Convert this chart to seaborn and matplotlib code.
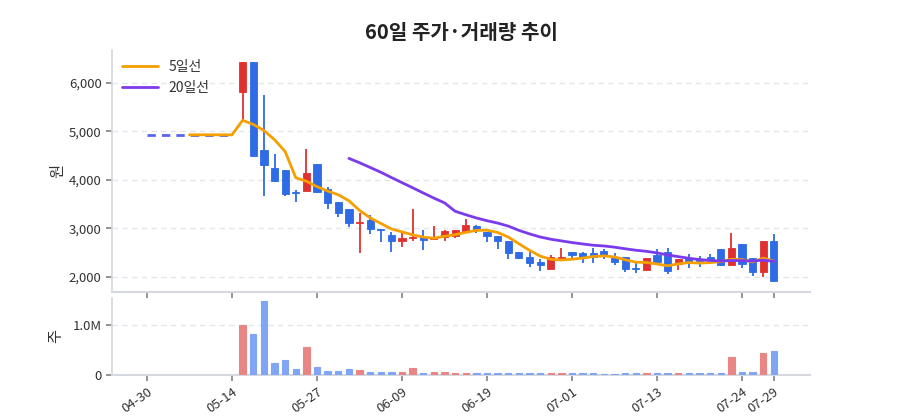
import numpy as np
import pandas as pd
import matplotlib
matplotlib.use("Agg")
import matplotlib.pyplot as plt
from matplotlib.ticker import FuncFormatter, FixedLocator
import seaborn as sns

# ---------------- data ----------------
n_days = 60
pre_close = [4930] * 9          # days 0..8 (before first candle)
first_idx = 9

opens  = [5810, 6430, 4610, 4240, 4200, 3760, 3770, 4320, 3810, 3545, 3410, 3110, 3165, 2990, 2865,
          2730, 2800, 2820, 2780, 2830, 2845, 2935, 3050, 2935, 2845, 2730, 2510, 2400, 2315, 2160,
          2375, 2520, 2500, 2490, 2535, 2385, 2405, 2180, 2145, 2455, 2520, 2260, 2385, 2365, 2400,
          2575, 2235, 2675, 2385, 2095, 2740]
closes = [6430, 4500, 4310, 3980, 3705, 3730, 4140, 3750, 3530, 3320, 3115, 3140, 2985, 2960, 2745,
          2810, 2830, 2765, 2830, 2955, 2970, 3070, 2970, 2845, 2730, 2490, 2380, 2295, 2250, 2400,
          2420, 2460, 2405, 2420, 2455, 2315, 2170, 2160, 2385, 2300, 2130, 2365, 2295, 2330, 2350,
          2235, 2605, 2260, 2095, 2740, 1920]
highs  = [6430, 6430, 5750, 4540, 4200, 3800, 4640, 4320, 3850, 3545, 3410, 3310, 3280, 2990, 2935,
          2955, 3395, 2970, 3050, 2960, 2975, 3190, 3070, 2935, 2845, 2730, 2520, 2520, 2365, 2455,
          2590, 2520, 2505, 2605, 2570, 2490, 2405, 2280, 2390, 2575, 2605, 2370, 2470, 2440, 2465,
          2580, 2900, 2675, 2390, 2745, 2880]
lows   = [5240, 4500, 3660, 3965, 3660, 3550, 3770, 3740, 3400, 3245, 3020, 2490, 2890, 2710, 2520,
          2625, 2750, 2545, 2765, 2750, 2800, 2935, 2915, 2710, 2585, 2365, 2365, 2200, 2125, 2160,
          2375, 2385, 2295, 2280, 2365, 2250, 2110, 2090, 2140, 2300, 2060, 2145, 2190, 2205, 2345,
          2230, 2230, 2180, 2025, 2005, 1915]
volumes = [1.0, 0.83, 1.48, 0.234, 0.30, 0.124, 0.56, 0.145, 0.069, 0.069, 0.11, 0.10, 0.048, 0.055,
           0.048, 0.055, 0.13, 0.028, 0.048, 0.048, 0.028, 0.028, 0.028, 0.028, 0.035, 0.04, 0.028,
           0.035, 0.035, 0.035, 0.035, 0.028, 0.028, 0.028, 0.02, 0.014, 0.028, 0.028, 0.04, 0.028,
           0.028, 0.028, 0.025, 0.025, 0.025, 0.028, 0.35, 0.062, 0.062, 0.44, 0.48]  # millions

tick_idx = [0, 8, 16, 24, 32, 40, 48, 56, 59]
tick_labels = ["04-30", "05-14", "05-27", "06-09", "06-19", "07-01", "07-13", "07-24", "07-29"]

title = "60일 주가·거래량 추이"
ma_labels = ["5일선", "20일선"]

# ---------------- styling ----------------
sns.set_theme(style="white")
plt.rcParams['font.family'] = ['Noto Sans CJK KR', 'DejaVu Sans']
plt.rcParams['axes.unicode_minus'] = False

RED = "#e03131"
BLUE = "#2f6be4"
ORANGE = "#f59f00"
PURPLE = "#7c3aed"
GRID = "#e3e6ea"
SPINE = "#d5d9df"
TXT = "#333333"

idx = np.arange(first_idx, n_days)
o = np.array(opens, float); c = np.array(closes, float)
h = np.array(highs, float); l = np.array(lows, float)
up = c >= o
colors = np.where(up, RED, BLUE)

all_close = pd.Series(pre_close + closes, index=np.arange(n_days), dtype=float)
ma5 = all_close.rolling(5).mean()
ma20 = all_close.rolling(20).mean()

fig = plt.figure(figsize=(9, 4.2), dpi=100)
ax = fig.add_axes([0.1244, 0.305, 0.7756, 0.576])
axv = fig.add_axes([0.1244, 0.108, 0.7756, 0.1825], sharex=ax)

# dashed line for days before first candle
df_pre = pd.DataFrame({"x": np.arange(len(pre_close)), "y": pre_close})
sns.lineplot(data=df_pre, x="x", y="y", ax=ax, color="#5866ee", lw=2, linestyle=(0, (3, 2.2)), zorder=2)

# candles
ax.vlines(idx, l, h, colors=colors, lw=1.3, zorder=3)
body_bottom = np.minimum(o, c)
body_h = np.maximum(np.abs(c - o), 12)
ax.bar(idx, body_h, bottom=body_bottom, width=0.68, color=colors, edgecolor=colors, lw=0.6, zorder=4)

# moving averages
df_ma = pd.DataFrame({"x": np.arange(n_days), "ma5": ma5.values, "ma20": ma20.values})
sns.lineplot(data=df_ma, x="x", y="ma5", ax=ax, color=ORANGE, lw=2, label=ma_labels[0], zorder=5)
sns.lineplot(data=df_ma, x="x", y="ma20", ax=ax, color=PURPLE, lw=2, label=ma_labels[1], zorder=5)

ax.set_xlim(-3.3, 62.4)
ax.set_ylim(1690, 6680)
ax.yaxis.set_major_locator(FixedLocator([2000, 3000, 4000, 5000, 6000]))
ax.yaxis.set_major_formatter(FuncFormatter(lambda v, p: f"{int(v):,}"))
ax.grid(axis="y", color=GRID, linestyle=(0, (4, 3)), lw=1)
ax.set_axisbelow(True)
ax.set_ylabel("원", fontsize=11, color=TXT, labelpad=2)
ax.set_xlabel("")
ax.tick_params(axis="y", labelsize=9.5, colors=TXT, length=4, color="#888888", left=True)
ax.tick_params(axis="x", labelbottom=False, length=4, color="#888888", bottom=True)
for s in ["top", "right"]:
    ax.spines[s].set_visible(False)
ax.spines["left"].set_color(SPINE)
ax.spines["bottom"].set_color(SPINE)
ax.spines["bottom"].set_linewidth(1.5)
leg = ax.legend(loc="upper left", frameon=False, fontsize=10, handlelength=2.6, borderaxespad=0.3)
for t in leg.get_texts():
    t.set_color(TXT)
ax.set_title(title, fontsize=14.5, fontweight="bold", color="#222222", pad=8)

# volume
df_v = pd.DataFrame({"x": idx, "v": np.array(volumes) * 1e6, "up": np.where(up, "up", "down")})
sns.barplot(data=df_v, x="x", y="v", hue="up", palette={"up": "#e88585", "down": "#80a5f2"},
            native_scale=True, width=0.6, dodge=False, ax=axv, legend=False, saturation=1,
            linewidth=0.8, zorder=4)
for p in axv.patches:
    p.set_edgecolor(p.get_facecolor())
axv.set_ylim(0, 1.55e6)
axv.yaxis.set_major_locator(FixedLocator([0, 1e6]))
axv.yaxis.set_major_formatter(FuncFormatter(lambda v, p: "0" if v == 0 else f"{v/1e6:.1f}M"))
axv.grid(axis="y", color=GRID, linestyle=(0, (4, 3)), lw=1)
axv.set_axisbelow(True)
axv.set_ylabel("주", fontsize=11, color=TXT, labelpad=6)
axv.set_xlabel("")
axv.set_xlim(-3.3, 62.4)
axv.xaxis.set_major_locator(FixedLocator(tick_idx))
axv.set_xticklabels(tick_labels, rotation=35, ha="right", rotation_mode="anchor")
axv.tick_params(axis="x", labelsize=9.5, colors=TXT, length=4, color="#888888", bottom=True)
axv.tick_params(axis="y", labelsize=9.5, colors=TXT, length=4, color="#888888", left=True)
for s in ["top", "right"]:
    axv.spines[s].set_visible(False)
axv.spines["left"].set_color(SPINE)
axv.spines["bottom"].set_color(SPINE)
axv.spines["bottom"].set_linewidth(1.5)
axv.spines["bottom"].set_zorder(1)

fig.savefig("out.png", dpi=100)
